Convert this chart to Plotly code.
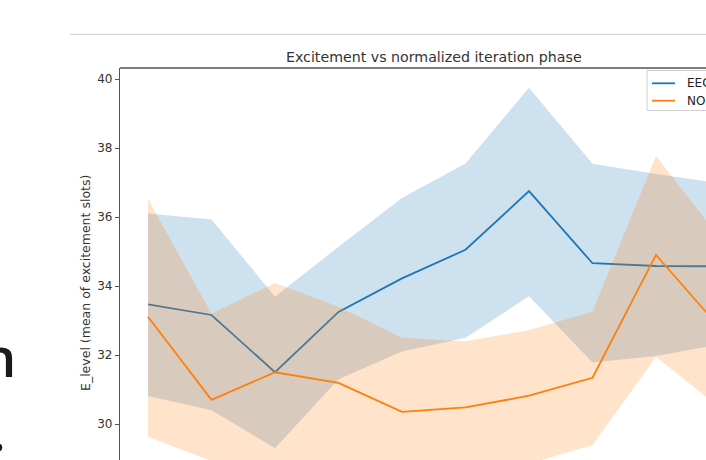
import plotly.graph_objects as go

# ---- data ----
phase_bins = list(range(10))
series_names = ["EEG", "NON-EEG"]

eeg_mean  = [33.47, 33.16, 31.50, 33.25, 34.22, 35.05, 36.75, 34.66, 34.58, 34.57]
eeg_upper = [36.10, 35.93, 33.69, 35.14, 36.55, 37.55, 39.75, 37.54, 37.25, 36.98]
eeg_lower = [30.81, 30.40, 29.30, 31.30, 32.10, 32.50, 33.70, 31.78, 31.97, 32.30]

non_mean  = [33.11, 30.70, 31.50, 31.19, 30.35, 30.48, 30.82, 31.34, 34.90, 32.80]
non_upper = [36.52, 33.20, 34.09, 33.40, 32.50, 32.40, 32.72, 33.26, 37.77, 35.40]
non_lower = [29.62, 28.93, 28.35, 28.45, 28.55, 28.65, 28.85, 29.39, 31.95, 30.48]

y_ticks = [30, 32, 34, 36, 38, 40]

title_text = "Excitement vs normalized iteration phase"
ylabel_text = "E_level (mean of excitement slots)"

BLUE = "#1f77b4"
ORANGE = "#ff7f0e"
BLUE_FILL = "rgba(31,119,180,0.22)"
ORANGE_FILL = "rgba(255,127,14,0.22)"

# ---- layout geometry (pixels) ----
FW, FH = 706, 460
L, T = 120, 68
W, H = FW - L, FH - T


def px(x):
    return (x - L) / W


def py(y):
    return 1 - (y - T) / H


fig = go.Figure()

groups = [
    (series_names[0], eeg_mean, eeg_upper, eeg_lower, BLUE, BLUE_FILL),
    (series_names[1], non_mean, non_upper, non_lower, ORANGE, ORANGE_FILL),
]
for name, m, up, lo, col, fcol in groups:
    fig.add_trace(go.Scatter(x=phase_bins, y=m, mode="lines", name=name,
                             line=dict(color=col, width=1.8), showlegend=False))
    fig.add_trace(go.Scatter(x=phase_bins + phase_bins[::-1], y=up + lo[::-1],
                             fill="toself", fillcolor=fcol, mode="none",
                             line=dict(width=0), showlegend=False, hoverinfo="skip"))

fig.update_xaxes(range=[-28 / 63.5, (706 - 148) / 63.5], showline=False,
                 showticklabels=False, ticks="", showgrid=False, zeroline=False)
fig.update_yaxes(range=[40 - 381 / 34.5, 40 + 11 / 34.5], autorange=False,
                 tickvals=y_ticks, ticks="outside", ticklen=4, tickwidth=1.2,
                 tickcolor="#555", showline=True, linecolor="#555", linewidth=1.3,
                 showgrid=False, zeroline=False,
                 tickfont=dict(family="DejaVu Sans", size=12, color="#333"))

shapes = []
# top frame
shapes.append(dict(type="line", xref="paper", yref="paper", x0=0, x1=1.2, y0=1, y1=1,
                   line=dict(color="#555", width=1.3)))
# page rule above the chart
shapes.append(dict(type="line", xref="paper", yref="paper", x0=px(70), x1=px(720),
                   y0=py(34.3), y1=py(34.3), line=dict(color="#c8c8c8", width=1)))
# legend box
shapes.append(dict(type="rect", xref="paper", yref="paper", x0=px(647), x1=px(780),
                   y0=py(70.5), y1=py(110.5), fillcolor="rgba(255,255,255,0.85)",
                   line=dict(color="#d0d0d0", width=1)))
legend_rows = [(83.3, BLUE), (100.7, ORANGE)]
annotations = []
for (yy, col), nm in zip(legend_rows, series_names):
    shapes.append(dict(type="line", xref="paper", yref="paper", x0=px(652), x1=px(675),
                       y0=py(yy), y1=py(yy), line=dict(color=col, width=1.8)))
    annotations.append(dict(text=nm, xref="paper", yref="paper", x=px(685), y=py(yy),
                            xanchor="left", yanchor="middle", showarrow=False,
                            font=dict(family="DejaVu Sans", size=12, color="#222")))

annotations.append(dict(text=title_text, xref="paper", yref="paper", x=px(434), y=py(56.5),
                        xanchor="center", yanchor="middle", showarrow=False,
                        font=dict(family="DejaVu Sans", size=14.2, color="#333")))
annotations.append(dict(text=ylabel_text, xref="paper", yref="paper", x=px(85), y=py(283),
                        xanchor="center", yanchor="middle", textangle=-90, showarrow=False,
                        font=dict(family="DejaVu Sans", size=12.5, color="#333")))
# page text fragments at the left edge
annotations.append(dict(text="n", xref="paper", yref="paper", x=px(18), y=py(356),
                        xanchor="right", yanchor="middle", showarrow=False,
                        font=dict(family="Open Sans", size=54, color="#1a1a1a", weight=600)))
annotations.append(dict(text=".", xref="paper", yref="paper", x=px(8), y=py(430),
                        xanchor="right", yanchor="middle", showarrow=False,
                        font=dict(family="Open Sans", size=54, color="#1a1a1a", weight=600)))

fig.update_layout(width=FW, height=FH,
                  margin=dict(l=L, r=0, t=T, b=0, pad=0, autoexpand=False),
                  paper_bgcolor="white", plot_bgcolor="white",
                  shapes=shapes, annotations=annotations, showlegend=False)

fig.write_html("out.html")
